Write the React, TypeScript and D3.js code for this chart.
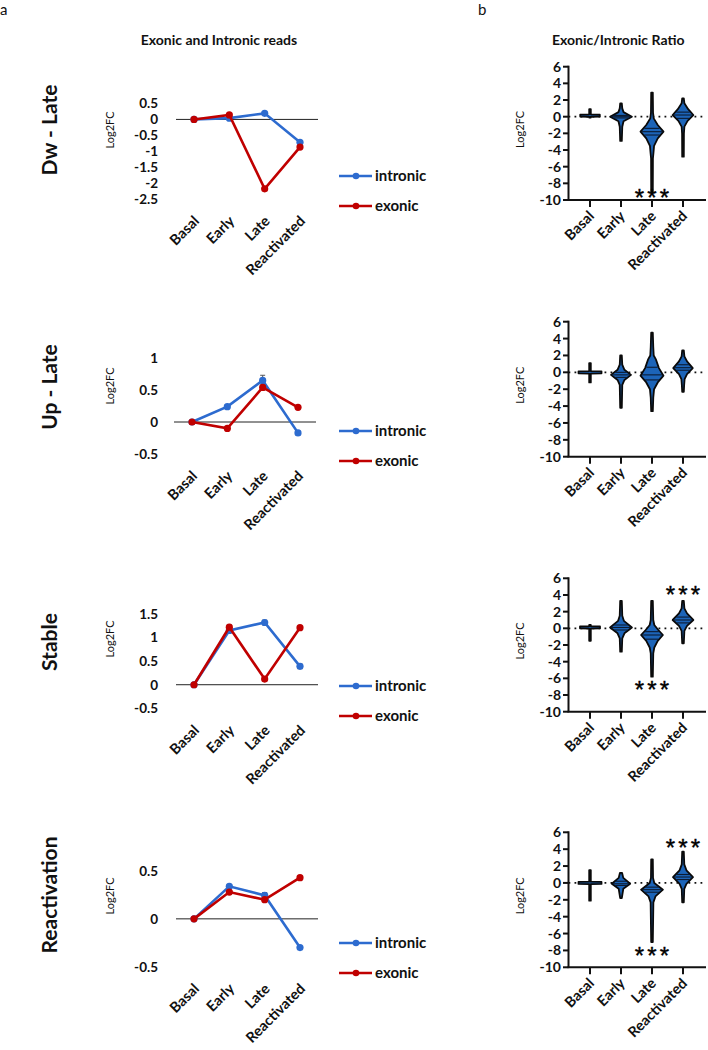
import React from "react";
import * as d3 from "d3";

// ---------- data ----------
const categories = ["Basal", "Early", "Late", "Reactivated"];
const rowTitles = ["Dw - Late", "Up - Late", "Stable", "Reactivation"];
const seriesNames = ["intronic", "exonic"];

// Panel a: Log2FC means
const dwLateIntronic = [0, 0.04, 0.19, -0.72];
const dwLateExonic = [0, 0.14, -2.18, -0.87];
const upLateIntronic = [0, 0.24, 0.65, -0.17];
const upLateExonic = [0, -0.1, 0.54, 0.23];
const stableIntronic = [0, 1.15, 1.32, 0.39];
const stableExonic = [0, 1.22, 0.12, 1.21];
const reactIntronic = [0, 0.34, 0.245, -0.3];
const reactExonic = [0, 0.28, 0.2, 0.43];

// Panel a: error bars (±)
const dwLateIntronicErr = [0, 0.02, 0.04, 0.05];
const dwLateExonicErr = [0, 0.02, 0.04, 0.04];
const upLateIntronicErr = [0, 0.03, 0.08, 0.03];
const upLateExonicErr = [0, 0.02, 0.04, 0.02];
const stableIntronicErr = [0, 0.05, 0.05, 0.05];
const stableExonicErr = [0, 0.05, 0.03, 0.03];
const reactIntronicErr = [0, 0.02, 0.03, 0.01];
const reactExonicErr = [0, 0.02, 0.02, 0.02];

const dwLateTicks = [0.5, 0, -0.5, -1, -1.5, -2, -2.5];
const upLateTicks = [1, 0.5, 0, -0.5];
const stableTicks = [1.5, 1, 0.5, 0, -0.5];
const reactTicks = [0.5, 0, -0.5];
const ratioTicks = [6, 4, 2, 0, -2, -4, -6, -8, -10];

// Panel b: violin profiles [Log2FC, relative half-width]
const dwLateProfiles: [number, number][][] = [
  [[0.9, 0.07], [0.28, 0.07], [0.25, 0.85], [0.02, 0.85], [-0.01, 0.07], [-0.1, 0.07]],
  [[1.6, 0.07], [1.0, 0.11], [0.55, 0.22], [0.0, 0.95], [-0.55, 0.22], [-1.2, 0.11], [-2.9, 0.07]],
  [[2.9, 0.07], [0.5, 0.09], [-0.2, 0.15], [-1.0, 0.5], [-1.8, 1.0], [-2.6, 0.5], [-3.5, 0.18], [-4.3, 0.13], [-5.0, 0.08], [-9.0, 0.07]],
  [[2.2, 0.07], [1.6, 0.12], [0.9, 0.45], [0.2, 0.9], [-0.5, 0.4], [-1.2, 0.12], [-2.0, 0.08], [-4.8, 0.07]],
];
const upLateProfiles: [number, number][][] = [
  [[1.1, 0.07], [0.15, 0.07], [0.12, 1.0], [-0.12, 1.0], [-0.15, 0.07], [-1.2, 0.07]],
  [[2.0, 0.07], [0.9, 0.11], [0.3, 0.3], [-0.3, 0.87], [-0.9, 0.3], [-1.5, 0.11], [-4.2, 0.07]],
  [[4.7, 0.07], [3.0, 0.11], [2.0, 0.15], [1.5, 0.35], [0.5, 0.6], [-0.4, 1.0], [-1.2, 0.5], [-2.0, 0.18], [-3.0, 0.11], [-4.6, 0.07]],
  [[2.6, 0.07], [1.9, 0.12], [1.3, 0.35], [0.5, 0.85], [-0.2, 0.35], [-0.8, 0.14], [-1.5, 0.1], [-2.3, 0.07]],
];
const stableProfiles: [number, number][][] = [
  [[0.4, 0.07], [0.25, 0.07], [0.22, 0.87], [0.0, 0.87], [-0.03, 0.07], [-1.5, 0.07]],
  [[3.3, 0.07], [1.5, 0.11], [0.9, 0.25], [0.1, 0.95], [-0.6, 0.3], [-1.2, 0.11], [-2.8, 0.07]],
  [[3.3, 0.07], [1.0, 0.11], [0.4, 0.2], [-0.2, 0.55], [-0.8, 0.95], [-1.5, 0.5], [-2.3, 0.2], [-3.0, 0.11], [-5.8, 0.07]],
  [[3.3, 0.07], [2.4, 0.12], [1.8, 0.35], [1.0, 0.9], [0.3, 0.35], [-0.3, 0.12], [-1.8, 0.07]],
];
const reactProfiles: [number, number][][] = [
  [[1.5, 0.07], [0.15, 0.07], [0.12, 1.0], [-0.12, 1.0], [-0.15, 0.07], [-2.1, 0.07]],
  [[1.2, 0.09], [0.6, 0.2], [-0.1, 0.8], [-0.7, 0.2], [-1.8, 0.07]],
  [[2.8, 0.07], [0.6, 0.09], [0.0, 0.2], [-0.8, 0.95], [-1.6, 0.3], [-2.3, 0.12], [-7.0, 0.07]],
  [[3.7, 0.07], [2.2, 0.11], [1.5, 0.3], [0.7, 0.87], [-0.1, 0.3], [-0.7, 0.11], [-2.3, 0.07]],
];

// quartile / median lines inside violins
const dwLateQuartiles = [[], [-0.15, 0.0, 0.15], [-2.2, -1.8, -1.4], [-0.2, 0.2, 0.55]];
const upLateQuartiles = [[], [-0.6, -0.3, 0.0], [-0.9, -0.3, 0.6], [0.25, 0.55, 0.9]];
const stableQuartiles = [[], [-0.2, 0.1, 0.4], [-1.3, -0.8, -0.4], [0.65, 1.0, 1.35]];
const reactQuartiles = [[], [-0.3, -0.1, 0.2], [-1.1, -0.8, -0.5], [0.4, 0.7, 1.0]];

// significance marks [category, Log2FC position]
const dwLateStars: [string, number][] = [["Late", -9.2]];
const upLateStars: [string, number][] = [];
const stableStars: [string, number][] = [["Late", -6.8], ["Reactivated", 4.6]];
const reactStars: [string, number][] = [["Late", -8.05], ["Reactivated", 4.75]];

// ---------- layout ----------
const rows = [
  { intr: dwLateIntronic, exon: dwLateExonic, ie: dwLateIntronicErr, ee: dwLateExonicErr, ticks: dwLateTicks, profiles: dwLateProfiles, quart: dwLateQuartiles, stars: dwLateStars,
    lTop: 103.5, lBot: 199, catL: [194, 300], zero: [176, 318], legendY: 176, titleY: 130, logY: 130, rTop: 66.7, rBot: 200 },
  { intr: upLateIntronic, exon: upLateExonic, ie: upLateIntronicErr, ee: upLateExonicErr, ticks: upLateTicks, profiles: upLateProfiles, quart: upLateQuartiles, stars: upLateStars,
    lTop: 358, lBot: 454, catL: [192, 298], zero: [174, 316], legendY: 431, titleY: 387, logY: 386, rTop: 321.7, rBot: 456.7 },
  { intr: stableIntronic, exon: stableExonic, ie: stableIntronicErr, ee: stableExonicErr, ticks: stableTicks, profiles: stableProfiles, quart: stableQuartiles, stars: stableStars,
    lTop: 614, lBot: 708.3, catL: [194, 300], zero: [176, 318], legendY: 686, titleY: 642, logY: 639, rTop: 578.3, rBot: 711.7 },
  { intr: reactIntronic, exon: reactExonic, ie: reactIntronicErr, ee: reactExonicErr, ticks: reactTicks, profiles: reactProfiles, quart: reactQuartiles, stars: reactStars,
    lTop: 871, lBot: 966.7, catL: [194, 300], zero: [176, 318], legendY: 943, titleY: 895, logY: 896, rTop: 832.3, rBot: 967.3 },
];

const BLUE = "#2d6bcf";
const RED = "#c00000";
const VIOLIN = "#1c64b8";
const FONT = "Lato, 'Open Sans', sans-serif";
const AX_X = 568.5;
const H = 11.5;

function LinePanel({ r }: { r: any }) {
  const tmin = d3.min(r.ticks as number[])!;
  const tmax = d3.max(r.ticks as number[])!;
  const y = d3.scaleLinear().domain([tmin, tmax]).range([r.lBot, r.lTop]);
  const x = d3.scalePoint<string>().domain(categories).range(r.catL);
  const line = d3.line<number>().x((_, i) => x(categories[i])!).y((d) => y(d));
  const series = [
    { vals: r.intr, err: r.ie, color: BLUE },
    { vals: r.exon, err: r.ee, color: RED },
  ];
  return (
    <g>
      <text x={50} y={r.titleY} transform={`rotate(-90 50 ${r.titleY})`} textAnchor="middle" dy="0.35em"
        fontFamily={FONT} fontWeight={700} fontSize={21} fill="#111">{rowTitles[rows.indexOf(r)]}</text>
      <text x={110} y={r.logY} transform={`rotate(-90 110 ${r.logY})`} textAnchor="middle" dy="0.35em"
        fontFamily={FONT} fontSize={11} fill="#111">Log2FC</text>
      {r.ticks.map((t: number) => (
        <text key={t} x={158} y={y(t)} dy="0.36em" textAnchor="end" fontFamily={FONT} fontWeight={700} fontSize={13.5} fill="#111">{String(t)}</text>
      ))}
      <line x1={r.zero[0]} x2={r.zero[1]} y1={y(0)} y2={y(0)} stroke="#222" strokeWidth={1} />
      {series.map((s, si) => (
        <g key={si}>
          <path d={line(s.vals)!} fill="none" stroke={s.color} strokeWidth={2.6} />
          {s.vals.map((v: number, i: number) => (
            <g key={i}>
              {s.err[i] > 0.015 && (
                <g stroke="#555" strokeWidth={1}>
                  <line x1={x(categories[i])} x2={x(categories[i])} y1={y(v - s.err[i])} y2={y(v + s.err[i])} />
                  <line x1={x(categories[i])! - 2.5} x2={x(categories[i])! + 2.5} y1={y(v + s.err[i])} y2={y(v + s.err[i])} />
                  <line x1={x(categories[i])! - 2.5} x2={x(categories[i])! + 2.5} y1={y(v - s.err[i])} y2={y(v - s.err[i])} />
                </g>
              )}
              <circle cx={x(categories[i])} cy={y(v)} r={3.6} fill={s.color} />
            </g>
          ))}
        </g>
      ))}
      {categories.map((c) => (
        <text key={c} transform={`translate(${x(c)! + 6},${r.lBot + 23}) rotate(-45)`} textAnchor="end"
          fontFamily={FONT} fontWeight={700} fontSize={14.5} fill="#111">{c}</text>
      ))}
      {seriesNames.map((n, i) => (
        <g key={n}>
          <line x1={339} x2={372} y1={r.legendY + i * 30} y2={r.legendY + i * 30} stroke={i === 0 ? BLUE : RED} strokeWidth={2.6} />
          <circle cx={356} cy={r.legendY + i * 30} r={3.3} fill={i === 0 ? BLUE : RED} />
          <text x={375} y={r.legendY + i * 30} dy="0.35em" fontFamily={FONT} fontWeight={700} fontSize={15} fill="#111">{n}</text>
        </g>
      ))}
    </g>
  );
}

function ViolinPanel({ r }: { r: any }) {
  const y = d3.scaleLinear().domain([-10, 6]).range([r.rBot, r.rTop]);
  const x = d3.scalePoint<string>().domain(categories).range([590, 683]);
  const midY = (r.rTop + r.rBot) / 2 - 4;
  return (
    <g>
      <text x={520} y={midY} transform={`rotate(-90 520 ${midY})`} textAnchor="middle" dy="0.35em"
        fontFamily={FONT} fontSize={11} fill="#111">Log2FC</text>
      <line x1={AX_X} x2={706} y1={y(0)} y2={y(0)} stroke="#111" strokeWidth={1.8} strokeDasharray="1.8 4.2" />
      {r.profiles.map((prof: [number, number][], i: number) => {
        const cx = x(categories[i])!;
        const sorted = [...prof].sort((a, b) => b[0] - a[0]);
        const area = d3.area<[number, number]>()
          .y((d) => y(d[0]))
          .x0((d) => cx - d[1] * H)
          .x1((d) => cx + d[1] * H);
        const wAt = d3.scaleLinear().domain(sorted.map((d) => d[0])).range(sorted.map((d) => d[1]));
        return (
          <g key={i}>
            <path d={area(sorted)!} fill={VIOLIN} stroke="#0a0a0a" strokeWidth={1.8} strokeLinejoin="round" />
            {r.quart[i].map((q: number, qi: number) => (
              <line key={qi} x1={cx - wAt(q) * H + 1} x2={cx + wAt(q) * H - 1} y1={y(q)} y2={y(q)} stroke="#0b1b33" strokeWidth={1.1} />
            ))}
          </g>
        );
      })}
      <line x1={AX_X} x2={AX_X} y1={r.rTop - 1} y2={r.rBot} stroke="#111" strokeWidth={2} />
      <line x1={AX_X - 1} x2={706} y1={r.rBot} y2={r.rBot} stroke="#111" strokeWidth={2} />
      {ratioTicks.map((t) => (
        <g key={t}>
          <line x1={AX_X - 5.5} x2={AX_X} y1={y(t)} y2={y(t)} stroke="#111" strokeWidth={2} />
          <text x={561} y={y(t)} dy="0.36em" textAnchor="end" fontFamily={FONT} fontWeight={700} fontSize={14} fill="#111">{String(t)}</text>
        </g>
      ))}
      {categories.map((c) => (
        <g key={c}>
          <line x1={x(c)} x2={x(c)} y1={r.rBot} y2={r.rBot + 7} stroke="#111" strokeWidth={2} />
          <text transform={`translate(${x(c)! + 5},${r.rBot + 17}) rotate(-45)`} textAnchor="end"
            fontFamily={FONT} fontWeight={700} fontSize={14.5} fill="#111">{c}</text>
        </g>
      ))}
      {r.stars.map(([c, v]: [string, number], si: number) => (
        <g key={si}>
          {[-12.5, 0, 12.5].map((dx) => (
            <text key={dx} x={x(c)! + dx} y={y(v) + 13} textAnchor="middle" fontFamily="'Liberation Sans', sans-serif"
              fontSize={24} fill="#000" stroke="#000" strokeWidth={0.4}>*</text>
          ))}
        </g>
      ))}
    </g>
  );
}

export default function App() {
  return (
    <svg width={708} height={1050} style={{ position: "absolute", left: 0, top: 0, display: "block", background: "#fff" }}>
      <rect width={708} height={1050} fill="#fff" />
      <text x={0} y={15} fontFamily={FONT} fontSize={15} fill="#111">a</text>
      <text x={478} y={15} fontFamily={FONT} fontSize={15} fill="#111">b</text>
      <text x={219} y={44.5} textAnchor="middle" fontFamily={FONT} fontWeight={700} fontSize={14} fill="#111">Exonic and Intronic reads</text>
      <text x={552} y={44.5} fontFamily={FONT} fontWeight={700} fontSize={14} fill="#111">Exonic/Intronic Ratio</text>
      {rows.map((r, i) => (
        <g key={i}>
          <LinePanel r={r} />
          <ViolinPanel r={r} />
        </g>
      ))}
    </svg>
  );
}
